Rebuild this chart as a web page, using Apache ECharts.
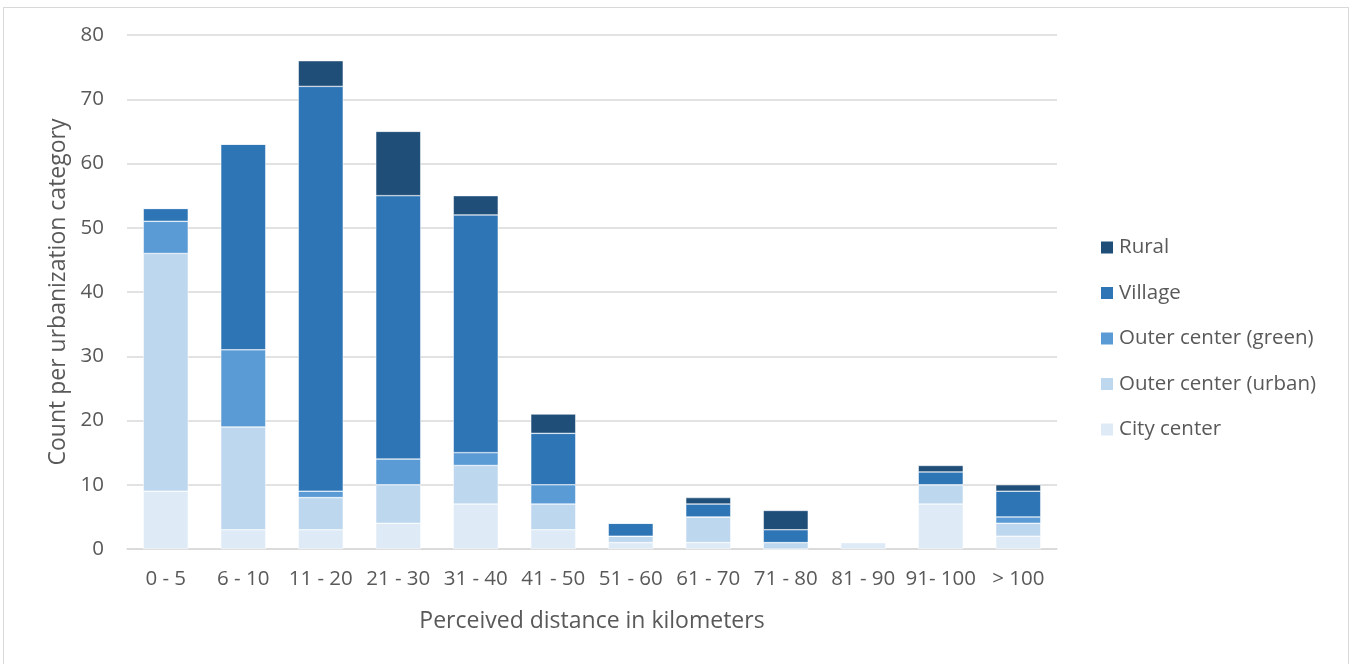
<!DOCTYPE html>
<html>
<head>
<meta charset="utf-8">
<script src="https://cdn.jsdelivr.net/npm/echarts@6/dist/echarts.min.js"></script>
<style>
  html, body { margin: 0; padding: 0; background: #fff; }
  #frame { position: absolute; left: 3px; top: 7px; width: 1346px; height: 660px; border: 1px solid #d9d9d9; box-sizing: border-box; }
  #chart { position: absolute; left: 0; top: 0; width: 1354px; height: 664px; }
</style>
</head>
<body>
<div id="frame"></div>
<div id="chart"></div>
<script>
const categories = ['0 - 5', '6 - 10', '11 - 20', '21 - 30', '31 - 40', '41 - 50', '51 - 60', '61 - 70', '71 - 80', '81 - 90', '91- 100', '> 100'];
const cityCenter = [9, 3, 3, 4, 7, 3, 1, 1, 0, 1, 7, 2];
const outerUrban = [37, 16, 5, 6, 6, 4, 1, 4, 1, 0, 3, 2];
const outerGreen = [5, 12, 1, 4, 2, 3, 0, 0, 0, 0, 0, 1];
const village = [2, 32, 63, 41, 37, 8, 2, 2, 2, 0, 2, 4];
const rural = [0, 0, 4, 10, 3, 3, 0, 1, 3, 0, 1, 1];
const yTicks = [0, 80, 10];

const chart = echarts.init(document.getElementById('chart'), null, { renderer: 'canvas' });
const font = '"Open Sans", "Noto Sans", sans-serif';
const textColor = '#595959';

const seriesDefs = [
  { name: 'City center', data: cityCenter, color: '#deebf7' },
  { name: 'Outer center (urban)', data: outerUrban, color: '#bdd7ee' },
  { name: 'Outer center (green)', data: outerGreen, color: '#5b9bd5' },
  { name: 'Village', data: village, color: '#2e75b6' },
  { name: 'Rural', data: rural, color: '#1f4e79' },
];

chart.setOption({
  animation: false,
  textStyle: { fontFamily: font },
  grid: { left: 127, right: 297, top: 35, bottom: 115 },
  legend: {
    orient: 'vertical',
    left: 1099,
    top: 237,
    padding: 0,
    itemWidth: 14,
    itemHeight: 14,
    itemGap: 24.5,
    icon: 'rect',
    data: ['Rural', 'Village', 'Outer center (green)', 'Outer center (urban)', 'City center'],
    textStyle: { color: textColor, fontSize: 20.5, fontFamily: font, padding: [0, 0, 0, 0] },
  },
  xAxis: {
    type: 'category',
    data: categories,
    name: 'Perceived distance in kilometers',
    nameLocation: 'middle',
    nameGap: 61,
    nameTextStyle: { color: textColor, fontSize: 23, fontFamily: font },
    axisLine: { lineStyle: { color: '#d9d9d9', width: 1.5 } },
    axisTick: { show: false },
    axisLabel: { color: textColor, fontSize: 20.5, margin: 20, interval: 0, fontFamily: font },
  },
  yAxis: {
    type: 'value',
    min: yTicks[0],
    max: yTicks[1],
    interval: yTicks[2],
    name: 'Count per urbanization category',
    nameLocation: 'middle',
    nameGap: 57,
    nameTextStyle: { color: textColor, fontSize: 23, fontFamily: font },
    axisLine: { show: false },
    axisTick: { show: false },
    axisLabel: { color: textColor, fontSize: 20.5, margin: 23, fontFamily: font },
    splitLine: { lineStyle: { color: '#d9d9d9', width: 1.5 } },
  },
  series: seriesDefs.map(s => ({
    name: s.name,
    type: 'bar',
    stack: 'total',
    data: s.data,
    barWidth: '58%',
    itemStyle: { color: s.color, borderColor: '#ffffff', borderWidth: 0.5 },
  })),
});
</script>
</body>
</html>
